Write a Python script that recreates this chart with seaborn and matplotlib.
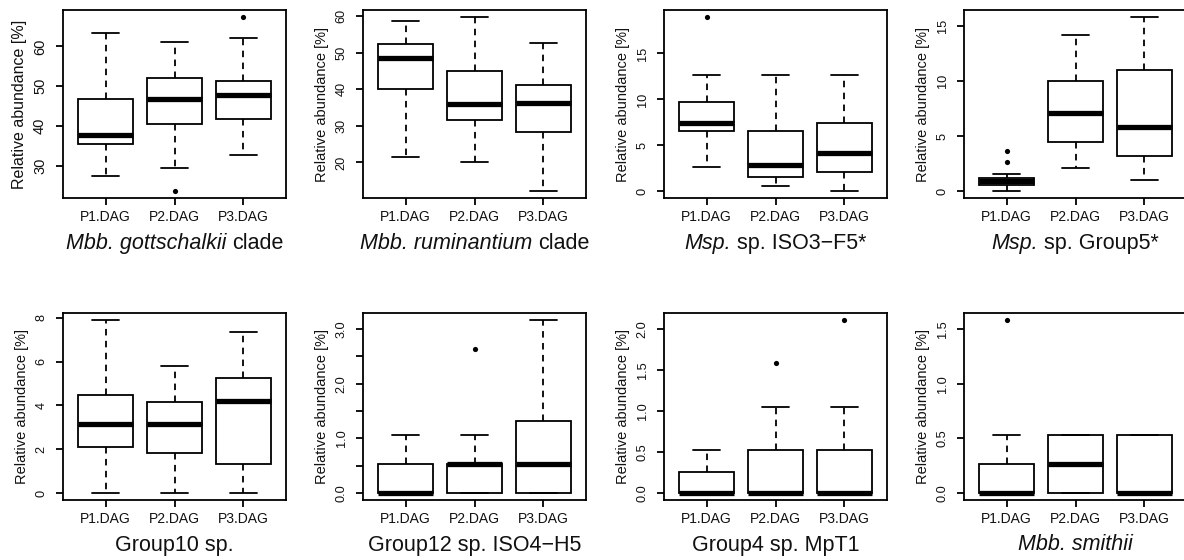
import numpy as np
import pandas as pd
import matplotlib
matplotlib.use("Agg")
import matplotlib.pyplot as plt
from matplotlib.transforms import offset_copy
import seaborn as sns

# Sampling points (days after grazing)
groups = ["P1.DAG", "P2.DAG", "P3.DAG"]

# Box summaries per sampling point: [lower whisker, Q1, median, Q3, upper whisker]
gottschalkii = [[27.4, 35.6, 37.8, 46.8, 63.3],
                [29.5, 40.6, 46.8, 52.1, 61.1],
                [32.7, 41.7, 47.9, 51.2, 62.1]]
gottschalkii_out = [[], [23.6], [67.4]]

ruminantium = [[21.6, 39.9, 48.6, 52.3, 58.5],
               [20.0, 31.5, 35.9, 44.9, 59.7],
               [12.1, 28.4, 36.2, 41.0, 52.7]]
ruminantium_out = [[], [], []]

iso3_f5 = [[2.66, 6.59, 7.39, 9.76, 12.63],
           [0.55, 1.57, 2.91, 6.59, 12.63],
           [0.00, 2.07, 4.22, 7.39, 12.63]]
iso3_f5_out = [[18.97], [], []]

group5 = [[0.00, 0.61, 0.97, 1.21, 1.58],
          [2.12, 4.45, 7.12, 10.00, 14.24],
          [1.06, 3.21, 5.85, 11.03, 15.85]]
group5_out = [[2.64, 3.70], [], []]

group10 = [[0.00, 2.11, 3.17, 4.47, 7.89],
           [0.00, 1.85, 3.17, 4.18, 5.79],
           [0.00, 1.33, 4.21, 5.26, 7.36]]
group10_out = [[], [], []]

group12 = [[0.00, 0.00, 0.00, 0.53, 1.06],
           [0.00, 0.00, 0.53, 0.53, 1.06],
           [0.00, 0.00, 0.53, 1.32, 3.16]]
group12_out = [[], [2.63], []]

group4 = [[0.00, 0.00, 0.00, 0.26, 0.52],
          [0.00, 0.00, 0.00, 0.52, 1.05],
          [0.00, 0.00, 0.00, 0.52, 1.05]]
group4_out = [[], [1.58], [2.105]]

smithii = [[0.00, 0.00, 0.00, 0.264, 0.53],
           [0.00, 0.00, 0.267, 0.53, 0.53],
           [0.00, 0.00, 0.00, 0.53, 0.53]]
smithii_out = [[1.58], [], []]

# Y-axis ticks and their labels
ticks_gottschalkii = [30, 40, 50, 60]
labels_gottschalkii = ["30", "40", "50", "60"]
ticks_ruminantium = [20, 30, 40, 50, 60]
labels_ruminantium = ["20", "30", "40", "50", "60"]
ticks_iso3 = [0, 5, 10, 15]
labels_iso3 = ["0", "5", "10", "15"]
ticks_group5 = [0, 5, 10, 15]
labels_group5 = ["0", "5", "10", "15"]
ticks_group10 = [0, 2, 4, 6, 8]
labels_group10 = ["0", "2", "4", "6", "8"]
ticks_group12 = [0.0, 0.5, 1.0, 1.5, 2.0, 2.5, 3.0]
labels_group12 = ["0.0", "", "1.0", "", "2.0", "", "3.0"]
ticks_group4 = [0.0, 0.5, 1.0, 1.5, 2.0]
labels_group4 = ["0.0", "0.5", "1.0", "1.5", "2.0"]
ticks_smithii = [0.0, 0.5, 1.0, 1.5]
labels_smithii = ["0.0", "0.5", "1.0", "1.5"]

# Panel captions (italic part, upright part)
titles = [
    ("Mbb. gottschalkii", "clade"),
    ("Mbb. ruminantium", "clade"),
    ("Msp.", "sp. ISO3\u2212F5*"),
    ("Msp.", "sp. Group5*"),
    ("", "Group10 sp."),
    ("", "Group12 sp. ISO4\u2212H5"),
    ("", "Group4 sp. MpT1"),
    ("Mbb. smithii", ""),
]

panels = [
    (gottschalkii, gottschalkii_out, ticks_gottschalkii, labels_gottschalkii),
    (ruminantium, ruminantium_out, ticks_ruminantium, labels_ruminantium),
    (iso3_f5, iso3_f5_out, ticks_iso3, labels_iso3),
    (group5, group5_out, ticks_group5, labels_group5),
    (group10, group10_out, ticks_group10, labels_group10),
    (group12, group12_out, ticks_group12, labels_group12),
    (group4, group4_out, ticks_group4, labels_group4),
    (smithii, smithii_out, ticks_smithii, labels_smithii),
]

sns.set_theme(style="ticks")
plt.rcParams["font.family"] = ["Liberation Sans", "DejaVu Sans"]

LW = 1.3
TXT = "#111111"
CAP_FS = 15.5
W, H = 1184, 560
DPI = 100
fig = plt.figure(figsize=(W / DPI, H / DPI), dpi=DPI)
renderer = fig.canvas.get_renderer()

lefts = [63, 363, 664, 964]
rows = [(10, 198.3), (313.3, 500)]
axw = 223
cap_drop = 50.5          # caption baseline below the plot frame, in pixels
space_w = 0.2778 * CAP_FS * DPI / 72


def add_caption(ax, italic, plain):
    """Centred caption under the panel with an italic taxon name."""
    pieces = []
    if italic:
        pieces.append((italic, "italic"))
    if plain:
        pieces.append((plain, "normal"))
    texts, widths = [], []
    for s, style in pieces:
        t = ax.text(0.5, 0, s, fontstyle=style, fontsize=CAP_FS, color=TXT,
                    ha="left", va="baseline", transform=ax.transAxes)
        texts.append(t)
        widths.append(t.get_window_extent(renderer).width)
    total = sum(widths) + space_w * (len(texts) - 1)
    x = -total / 2
    for t, w in zip(texts, widths):
        t.set_transform(offset_copy(ax.transAxes, fig=fig, x=x, y=-cap_drop, units="dots"))
        x += w + space_w


for i, (summary, outliers, yt, ytl) in enumerate(panels):
    r, c = divmod(i, 4)
    top, bottom = rows[r]
    ax = fig.add_axes([lefts[c] / W, 1 - bottom / H, axw / W, (bottom - top) / H])

    df = pd.DataFrame({"group": np.repeat(groups, 5), "value": np.ravel(summary)})
    sns.boxplot(
        data=df, x="group", y="value", order=groups, whis=(0, 100), width=0.8,
        color="white", linecolor="black", linewidth=LW, saturation=1,
        showfliers=False, ax=ax,
        whiskerprops={"linestyle": (0, (3.6, 3.0))},
        medianprops={"linewidth": 3.8, "solid_capstyle": "butt"},
    )

    ox = [k for k, o in enumerate(outliers) for _ in o]
    oy = [v for o in outliers for v in o]
    if oy:
        sns.scatterplot(x=ox, y=oy, color="black", s=14, linewidth=0, ax=ax, zorder=5)

    allv = np.concatenate([np.ravel(summary), np.array(oy, dtype=float)])
    lo, hi = allv.min(), allv.max()
    pad = 0.04 * (hi - lo)
    ax.set_ylim(lo - pad, hi + pad)
    ax.set_xlim(-0.62, 2.62)
    ax.set_xticks([0, 1, 2])
    ax.set_xticklabels(groups)
    ax.set_yticks(yt)
    ax.set_yticklabels(ytl)

    for s in ax.spines.values():
        s.set_visible(True)
        s.set_color("black")
        s.set_linewidth(LW)

    # the first panel carries a slightly larger y-axis annotation
    big = i == 0
    ax.tick_params(axis="both", direction="out", length=5, width=LW, color="black",
                   labelcolor=TXT)
    ax.tick_params(axis="x", labelsize=10, pad=3.5)
    ax.tick_params(axis="y", labelsize=10.5 if big else 9.2, pad=6.5 if big else 6,
                   labelrotation=90)
    for lbl in ax.get_yticklabels():
        lbl.set_va("center")

    ax.set_ylabel("Relative abundance [%]", fontsize=11.5 if big else 10.5,
                  labelpad=4 if big else 4.5, color=TXT)
    ax.set_xlabel("")
    add_caption(ax, *titles[i])

fig.savefig("out.png", dpi=DPI)
